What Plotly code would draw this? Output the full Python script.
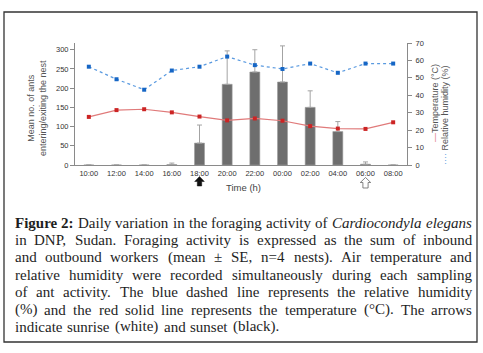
import plotly.graph_objects as go

# ---------------- data ----------------
times = ["10:00", "12:00", "14:00", "16:00", "18:00", "20:00", "22:00",
         "00:00", "02:00", "04:00", "06:00", "08:00"]
ant_mean = [0, 0, 0, 1, 57, 210, 242, 216, 150, 87, 2, 0]
ant_se = [0, 0, 0, 4, 47, 87, 58, 94, 43, 26, 6, 0]
temperature = [27.6, 31.5, 32.0, 30.2, 27.8, 25.6, 26.7, 25.4, 22.3, 20.9, 20.7, 24.5]
humidity = [56.4, 49.2, 43.2, 54.2, 56.4, 62.2, 57.3, 55.1, 58.2, 52.9, 58.2, 58.2]
left_ticks = [0, 50, 100, 150, 200, 250, 300]
right_ticks = [0, 10, 20, 30, 40, 50, 60, 70]
sunset_idx = 4    # 18:00 (black arrow)
sunrise_idx = 10  # 06:00 (white arrow)

caption_lines = [
    [("Figure", "b"), ("2:", "b"), ("Daily", "r"), ("variation", "r"), ("in", "r"), ("the", "r"),
     ("foraging", "r"), ("activity", "r"), ("of", "r"), ("Cardiocondyla", "i"), ("elegans", "i")],
    "in DNP, Sudan. Foraging activity is expressed as the sum of inbound",
    "and outbound workers (mean ± SE, n=4 nests). Air temperature and",
    "relative humidity were recorded simultaneously during each sampling",
    "of ant activity. The blue dashed line represents the relative humidity",
    "(%) and the red solid line represents the temperature (°C). The arrows",
    "indicate sunrise (white) and sunset (black).",
]

# ---------------- layout helpers (pixels -> paper) ----------------
W, H = 483, 353
L, R, T, B = 75, 407, 43, 165
def fx(x): return (x - L) / (R - L)
def fy(y): return (B - y) / (B - T)

TICKFONT = dict(family="Liberation Sans, Arial", size=7.5, color="#333333")

fig = go.Figure()
fig.add_trace(go.Bar(
    x=times, y=ant_mean, width=0.36,
    marker=dict(color="#6e6e6e", line=dict(color="#9a9a9a", width=0.6)),
    error_y=dict(type="data", array=ant_se, arrayminus=[0] * len(ant_se), symmetric=False,
                 color="#a3a3a3", thickness=1, width=2.5),
    yaxis="y", showlegend=False))
fig.add_trace(go.Scatter(
    x=times, y=humidity, mode="lines+markers", yaxis="y2",
    line=dict(color="#5a9ae0", width=1.2, dash="dot"),
    marker=dict(color="#1666c5", size=4, symbol="square"), showlegend=False))
fig.add_trace(go.Scatter(
    x=times, y=temperature, mode="lines+markers", yaxis="y2",
    line=dict(color="#e07a7a", width=1.2),
    marker=dict(color="#cc2424", size=4, symbol="square"), showlegend=False))

fig.update_layout(
    width=W, height=H, margin=dict(l=L, r=W - R, t=T, b=H - B, pad=0),
    paper_bgcolor="white", plot_bgcolor="white", bargap=0.6,
    xaxis=dict(type="category", range=[-0.5, len(times) - 0.5], showgrid=False,
               showline=True, linecolor="#8a8a8a", linewidth=1, ticks="",
               tickfont=TICKFONT, ticklabelstandoff=1, zeroline=False),
    yaxis=dict(range=[0, 317.5], tickvals=left_ticks, showgrid=False, zeroline=False,
               showline=True, linecolor="#8a8a8a", linewidth=1, ticks="outside",
               ticklen=4, tickcolor="#8a8a8a", tickfont=TICKFONT),
    yaxis2=dict(range=[0, 70], tickvals=right_ticks, overlaying="y", side="right",
                showgrid=False, zeroline=False, showline=True, linecolor="#8a8a8a",
                linewidth=1, ticks="outside", ticklen=4, tickcolor="#8a8a8a",
                tickfont=TICKFONT, ticklabelstandoff=2),
)

AXT = dict(family="Liberation Sans, Arial", size=9, color="#555555")
ann = []
ann.append(dict(xref="paper", yref="paper", x=fx(37), y=fy(108), showarrow=False,
                text="Mean no. of ants<br>entering/exiting the nest", textangle=-90,
                font=AXT, xanchor="center", yanchor="middle"))
ann.append(dict(xref="paper", yref="paper", x=fx(243), y=fy(187), showarrow=False,
                text="Time (h)", font=dict(family="Liberation Sans, Arial", size=9.5, color="#444"),
                xanchor="center", yanchor="middle"))
ann.append(dict(xref="paper", yref="paper", x=fx(435), y=fy(62), showarrow=False,
                text="<span style='color:#e07a7a'>—</span>Temperature (°C)", textangle=-90,
                font=AXT, xanchor="center", yanchor="top"))
ann.append(dict(xref="paper", yref="paper", x=fx(445), y=fy(63), showarrow=False,
                text="<span style='color:#5a9ae0'>····</span> Relative humidity (%)", textangle=-90,
                font=AXT, xanchor="center", yanchor="top"))

# ---------------- caption, justified word by word ----------------
REG = {' ': 250, 'a': 444, 'b': 500, 'c': 444, 'd': 500, 'e': 444, 'f': 333, 'g': 500, 'h': 500,
       'i': 278, 'j': 278, 'k': 500, 'l': 278, 'm': 778, 'n': 500, 'o': 500, 'p': 500, 'q': 500,
       'r': 333, 's': 389, 't': 278, 'u': 500, 'v': 500, 'w': 722, 'x': 500, 'y': 500, 'z': 444,
       'A': 722, 'B': 667, 'C': 667, 'D': 722, 'E': 611, 'F': 556, 'G': 722, 'H': 722, 'I': 333,
       'J': 389, 'K': 722, 'L': 611, 'M': 889, 'N': 722, 'O': 722, 'P': 556, 'Q': 722, 'R': 667,
       'S': 556, 'T': 611, 'U': 722, 'V': 722, 'W': 944, 'X': 722, 'Y': 722, 'Z': 611,
       '.': 250, ',': 250, ':': 278, ';': 278, '(': 333, ')': 333, '%': 833, '°': 400,
       '±': 564, '=': 564, '/': 278, '-': 333}
BOLD = dict(REG, **{'F': 611, 'u': 556, 'r': 444, ':': 333})
ITAL = dict(REG, **{'a': 500, 'r': 389, 'y': 444})
TABLES = {"r": REG, "b": BOLD, "i": ITAL}
CAP_SIZE = 15
CAP_FONT = dict(family="Liberation Serif, Times New Roman, serif", size=CAP_SIZE, color="#1e1e1e")

def wwidth(word, st):
    t = TABLES[st]
    return sum(t.get(c, 500) for c in word) / 1000 * CAP_SIZE

X0, X1 = 13.5, 471
for li, line in enumerate(caption_lines):
    words = line if isinstance(line, list) else [(w, "r") for w in line.split(" ")]
    widths = [wwidth(w, s) for w, s in words]
    last = li == len(caption_lines) - 1
    gap = 0.35 * CAP_SIZE if last else (X1 - X0 - sum(widths)) / (len(words) - 1)
    x = X0
    yc = 222.5 + li * 17.4
    for (w, s), wd in zip(words, widths):
        txt = f"<b>{w}</b>" if s == "b" else (f"<i>{w}</i>" if s == "i" else w)
        ann.append(dict(xref="paper", yref="paper", x=fx(x), y=fy(yc), text=txt,
                        showarrow=False, xanchor="left", yanchor="middle", font=CAP_FONT,
                        borderpad=0))
        x += wd + gap

fig.update_layout(annotations=ann)

# ---------------- shapes: frame and arrows ----------------
shapes = [dict(type="rect", xref="paper", yref="paper", x0=fx(4), x1=fx(477), y0=fy(12), y1=fy(342),
               line=dict(color="#333333", width=1.3), fillcolor="rgba(0,0,0,0)", layer="below")]

def arrow_path(idx, top, base, bottom, hw, sw):
    cx = L + (idx + 0.5) * (R - L) / len(times)
    pts = [(cx, top), (cx + hw, base), (cx + sw, base), (cx + sw, bottom),
           (cx - sw, bottom), (cx - sw, base), (cx - hw, base)]
    return "M " + " L ".join(f"{fx(px):.5f},{fy(py):.5f}" for px, py in pts) + " Z"

shapes.append(dict(type="path", xref="paper", yref="paper",
                   path=arrow_path(sunset_idx, 176.5, 181.5, 186, 4.8, 2.2),
                   fillcolor="#111111", line=dict(color="#111111", width=0.5)))
shapes.append(dict(type="path", xref="paper", yref="paper",
                   path=arrow_path(sunrise_idx, 177.5, 182.5, 188, 5.2, 2.6),
                   fillcolor="white", line=dict(color="#666666", width=0.8)))
fig.update_layout(shapes=shapes)

fig.write_html("out.html", config={"displayModeBar": False},
               post_script="document.body.style.margin='0px';")
